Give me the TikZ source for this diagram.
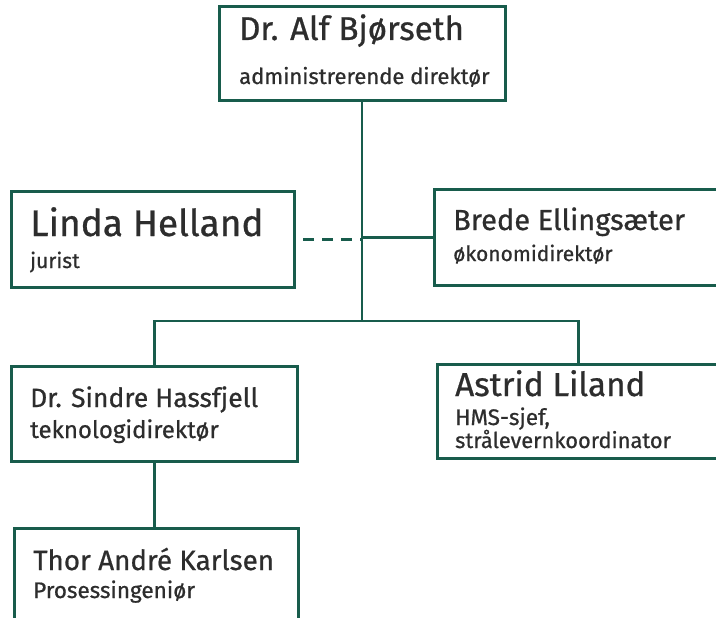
\documentclass[tikz,border=0pt]{standalone}
\usepackage{fontspec}
\setmainfont{Fira Sans}[FakeBold=0.7]
\usepackage{tikz}
\definecolor{orggreen}{RGB}{24,92,76}
\definecolor{orgtext}{RGB}{45,45,45}

\begin{document}
\begin{tikzpicture}[x=1pt, y=-1pt,
		orgbox/.style = {draw=orggreen, line width=3pt, rectangle, inner sep=0pt, anchor=north west},
		orglink/.style = {draw=orggreen, line width=2.6pt},
		personname/.style = {anchor=base west, inner sep=0pt, text=orgtext},
		jobtitle/.style = {anchor=base west, inner sep=0pt, text=orgtext, font=\fontsize{21}{24}\selectfont}]
	\useasboundingbox[fill=white] (0,0) rectangle (716,618);
	\clip (0,0) rectangle (716,618);
	\node[orgbox, minimum width=286pt, minimum height=94pt] (alf) at (218,5) {};
	\node[orgbox, minimum width=283pt, minimum height=96pt] (linda) at (10,190) {};
	\node[orgbox, minimum width=287pt, minimum height=96pt] (brede) at (433,188) {};
	\node[orgbox, minimum width=286pt, minimum height=95pt] (sindre) at (10,365) {};
	\node[orgbox, minimum width=282pt, minimum height=94pt] (astrid) at (436,363) {};
	\node[orgbox, minimum width=284pt, minimum height=120pt] (thor) at (13,527) {};

	\node[personname, font=\fontsize{33}{36}\selectfont] (alfname) at (239,40) {Dr. Alf Bjørseth};
	\node[jobtitle, font=\fontsize{22}{25}\selectfont] (alfrole) at (239,84) {administrerende direktør};
	\node[personname, font=\fontsize{37}{40}\selectfont] (lindaname) at (30,236) {Linda Helland};
	\node[jobtitle] (lindarole) at (30,268) {jurist};
	\node[personname, font=\fontsize{29}{32}\selectfont] (bredename) at (453,230) {Brede Ellingsæter};
	\node[jobtitle] (bredrole) at (453,261) {økonomidirektør};
	\node[personname, font=\fontsize{26.5}{30}\selectfont] (sindrename) at (30,407) {Dr. Sindre Hassfjell};
	\node[jobtitle, font=\fontsize{24}{27}\selectfont] (sindrerole) at (30,438) {teknologidirektør};
	\node[personname, font=\fontsize{33.2}{37}\selectfont] (astridname) at (455,396) {Astrid Liland};
	\node[jobtitle, font=\fontsize{22.5}{25}\selectfont] (astridrole) at (455,425) {HMS-sjef,};
	\node[jobtitle, font=\fontsize{21.8}{25}\selectfont] (astridrole2) at (455,448) {strålevernkoordinator};
	\node[personname, font=\fontsize{27.8}{31}\selectfont] (thorname) at (33,570) {Thor André Karlsen};
	\node[jobtitle, font=\fontsize{22.5}{25}\selectfont] (thorrole) at (33,598) {Prosessingeniør};

	\coordinate (split) at (362,321);
	\draw[orglink] (alf.south -| split) -- (split);
	\draw[orglink, dash pattern=on 11pt off 8pt, shorten <=7pt] (linda.east) -- (linda.east -| split);
	\draw[orglink] (brede.west) -- (brede.west -| split);
	\draw[orglink] (sindre.north) |- (split) -| (astrid.north);
	\draw[orglink] (sindre.south) -- (sindre.south |- thor.north);
\end{tikzpicture}
\end{document}
